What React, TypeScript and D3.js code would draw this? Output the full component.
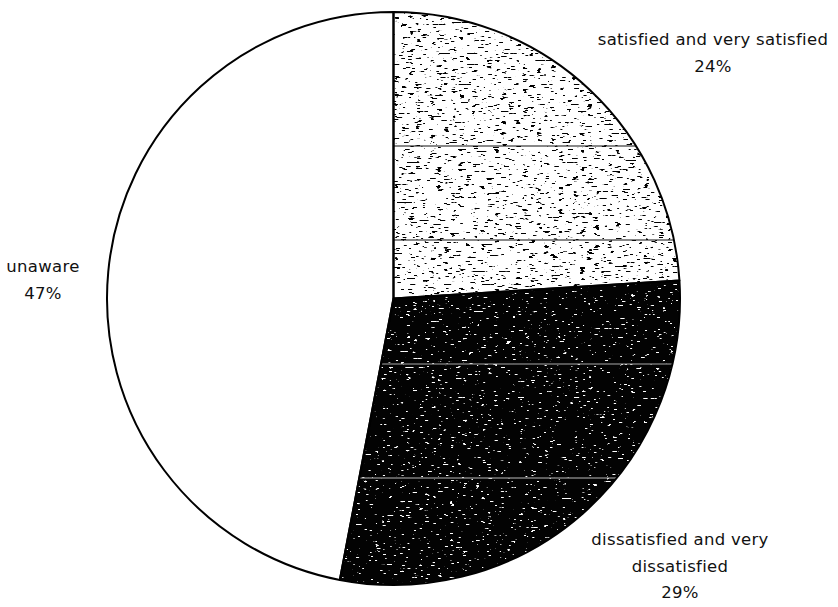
import React from "react";
import * as d3 from "d3";

const categories = ["satisfied and very satisfied", "dissatisfied and very dissatisfied", "unaware"];
const values = [24, 29, 47];
const labelLines = [
  ["satisfied and very satisfied", "24%"],
  ["dissatisfied and very", "dissatisfied", "29%"],
  ["unaware", "47%"],
];

const W = 838;
const H = 607;
const cx = 393.5;
const cy = 298.5;
const R = 286.5;

export default function App() {
  const pie = d3.pie<number>().sort(null).startAngle(0).endAngle(2 * Math.PI);
  const arcs = pie(values);
  const arcGen = d3.arc<d3.PieArcDatum<number>>().innerRadius(0).outerRadius(R);

  const labelPos = [
    { x: 713, y: 45 },
    { x: 680, y: 545 },
    { x: 43, y: 272 },
  ];
  const lineH = 26.5;

  return (
    <svg width={W} height={H} style={{ position: "absolute", left: 0, top: 0, background: "#fff" }}>
      <defs>
        <filter id="lightTex" x="0" y="0" width="1" height="1" filterUnits="objectBoundingBox">
          <feTurbulence type="fractalNoise" baseFrequency="0.14 0.55" numOctaves="2" seed="4" result="n" />
          <feColorMatrix in="n" type="matrix"
            values="0 0 0 0 0  0 0 0 0 0  0 0 0 0 0  -22 0 0 0 7.9" result="a" />
          <feComposite in="a" in2="SourceAlpha" operator="in" />
        </filter>
        <filter id="darkTex" x="0" y="0" width="1" height="1" filterUnits="objectBoundingBox">
          <feTurbulence type="fractalNoise" baseFrequency="0.16 0.7" numOctaves="2" seed="9" result="n" />
          <feColorMatrix in="n" type="matrix"
            values="0 0 0 0 1  0 0 0 0 1  0 0 0 0 1  22 0 0 0 -15.2" result="a" />
          <feComposite in="a" in2="SourceAlpha" operator="in" />
        </filter>
        {arcs.map((a, i) => (
          <clipPath id={`clip${i}`} key={i}>
            <path d={arcGen(a) || ""} transform={`translate(${cx},${cy})`} />
          </clipPath>
        ))}
      </defs>
      <g transform={`translate(${cx},${cy})`}>
        <path d={arcGen(arcs[0]) || ""} fill="#fff" />
        <path d={arcGen(arcs[0]) || ""} fill="#000" filter="url(#lightTex)" />
        <path d={arcGen(arcs[1]) || ""} fill="#030303" />
        <path d={arcGen(arcs[1]) || ""} fill="#000" filter="url(#darkTex)" />
        <path d={arcGen(arcs[2]) || ""} fill="#fff" />
      </g>
      <g clipPath="url(#clip0)">
        <line x1={0} x2={W} y1={146} y2={146} stroke="#111" strokeWidth={1.2} />
        <line x1={0} x2={W} y1={240} y2={240} stroke="#111" strokeWidth={1.2} />
      </g>
      <g clipPath="url(#clip1)">
        <line x1={0} x2={W} y1={364} y2={364} stroke="#aaa" strokeWidth={1} />
        <line x1={0} x2={W} y1={478} y2={478} stroke="#bbb" strokeWidth={1} />
      </g>
      <g transform={`translate(${cx},${cy})`}>
        {arcs.map((a, i) => (
          <path key={i} d={arcGen(a) || ""} fill="none" stroke="#000" strokeWidth={2} strokeLinejoin="round" />
        ))}
      </g>
      <g fontFamily="DejaVu Sans" fontSize={16.5} letterSpacing={0.3} fill="#111" textAnchor="middle">
        {labelLines.map((lines, i) =>
          lines.map((t, j) => (
            <text key={`${i}-${j}`} x={labelPos[i].x} y={labelPos[i].y + j * lineH}>
              {t}
            </text>
          ))
        )}
      </g>
    </svg>
  );
}
